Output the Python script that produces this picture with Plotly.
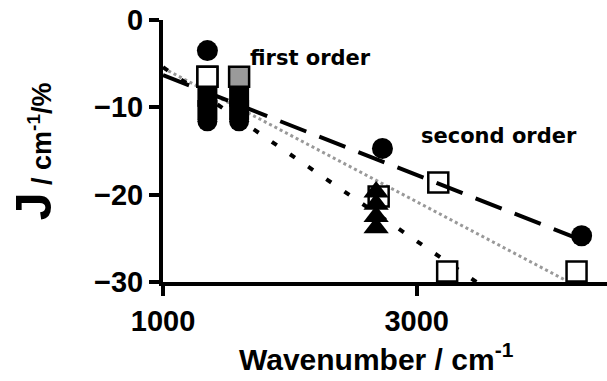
import plotly.graph_objects as go

# ---- data ----
# fitted lines (endpoints)
dash_x = [1000, 4300]
dash_y = [-6.3, -25.2]
dot_x = [1000, 3470]
dot_y = [-5.4, -30.0]
grey_x = [1000, 4200]
grey_y = [-5.5, -30.0]

# filled circles
circ_x = [1350, 2730, 4300]
circ_y = [-3.5, -14.7, -24.7]
# black stacked markers (first order)
blk_sq_x = [1350, 1350, 1600, 1600]
blk_sq_y = [-8.8, -10.3, -8.8, -10.3]
blk_circ_x = [1350, 1600]
blk_circ_y = [-11.6, -11.6]
# open squares
open_sq_x = [1350, 2700, 3170, 3240, 4260]
open_sq_y = [-6.5, -20.2, -18.6, -28.8, -28.8]
# grey squares
grey_sq_x = [1600]
grey_sq_y = [-6.5]
# triangles (second order)
tri_x = [2680, 2680, 2680, 2680]
tri_y = [-19.7, -21.1, -22.5, -23.8]

FONT = "Liberation Sans"
AFONT = "DejaVu Sans"

fig = go.Figure()
fig.add_trace(go.Scatter(x=grey_x, y=grey_y, mode="lines",
                         line=dict(color="#999999", width=3, dash="3px,3px"), showlegend=False))
fig.add_trace(go.Scatter(x=dot_x, y=dot_y, mode="lines",
                         line=dict(color="black", width=4, dash="6px,16px"), showlegend=False))
fig.add_trace(go.Scatter(x=open_sq_x, y=open_sq_y, mode="markers", cliponaxis=False,
                         marker=dict(symbol="square", size=20, color="white",
                                     line=dict(color="black", width=2.5)), showlegend=False))
fig.add_trace(go.Scatter(x=blk_sq_x, y=blk_sq_y, mode="markers", cliponaxis=False,
                         marker=dict(symbol="square", size=20, color="black"), showlegend=False))
fig.add_trace(go.Scatter(x=blk_circ_x, y=blk_circ_y, mode="markers", cliponaxis=False,
                         marker=dict(symbol="circle", size=20, color="black"), showlegend=False))
fig.add_trace(go.Scatter(x=tri_x, y=tri_y, mode="markers", cliponaxis=False,
                         marker=dict(symbol="triangle-up", size=22, color="black"), showlegend=False))
# redraw top open square of first-order column above the black stack
fig.add_trace(go.Scatter(x=open_sq_x[:1], y=open_sq_y[:1], mode="markers", cliponaxis=False,
                         marker=dict(symbol="square", size=20, color="white",
                                     line=dict(color="black", width=2.5)), showlegend=False))
fig.add_trace(go.Scatter(x=grey_sq_x, y=grey_sq_y, mode="markers", cliponaxis=False,
                         marker=dict(symbol="square", size=20, color="#9a9a9a",
                                     line=dict(color="black", width=2.5)), showlegend=False))
fig.add_trace(go.Scatter(x=dash_x, y=dash_y, mode="lines",
                         line=dict(color="black", width=4, dash="28px,14px"), showlegend=False))
fig.add_trace(go.Scatter(x=circ_x, y=circ_y, mode="markers", cliponaxis=False,
                         marker=dict(symbol="circle", size=21, color="black"), showlegend=False))

axis_common = dict(showgrid=False, zeroline=False, showline=True, linewidth=4, linecolor="black",
                   ticks="outside", ticklen=10, tickwidth=4, tickcolor="black",
                   tickfont=dict(size=29, family=FONT, weight="bold"))

fig.update_layout(
    width=607, height=381,
    margin=dict(l=163, r=0, t=20, b=99),
    plot_bgcolor="white", paper_bgcolor="white",
    font=dict(family=FONT, color="black"),
    xaxis=dict(range=[1000, 4500], tickvals=[1000, 3000], ticktext=["1000", "3000"], **axis_common),
    yaxis=dict(range=[-30, 0], tickvals=[0, -10, -20, -30], **axis_common),
    annotations=[
        dict(x=1672, y=-4.4, xref="x", yref="y", text="<b>first order</b>", showarrow=False,
             xanchor="left", yanchor="middle", font=dict(size=21, family=AFONT)),
        dict(x=3016, y=-13.3, xref="x", yref="y", text="<b>second order</b>", showarrow=False,
             xanchor="left", yanchor="middle", font=dict(size=21, family=AFONT)),
        dict(x=0.48, y=-0.285, xref="paper", yref="paper",
             text="<b>Wavenumber / cm<sup>-1</sup></b>", showarrow=False,
             xanchor="center", yanchor="middle", font=dict(size=30, family=FONT)),
        dict(x=-0.29, y=0.5, xref="paper", yref="paper", textangle=-90,
             text="<b><span style='font-size:50px'>J</span> / cm<sup>-1</sup>/%</b>", showarrow=False,
             xanchor="center", yanchor="middle", font=dict(size=27, family=FONT)),
    ],
)
fig.write_html("out.html")
